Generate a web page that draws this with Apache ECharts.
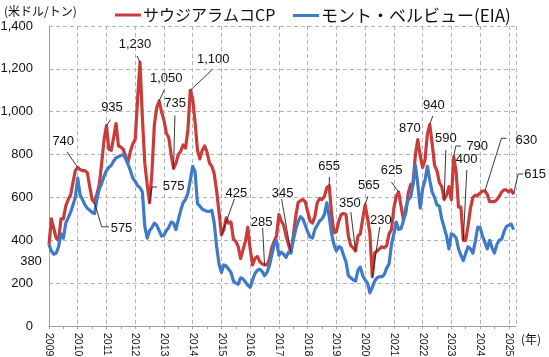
<!DOCTYPE html>
<html><head><meta charset="utf-8">
<script src="https://cdn.jsdelivr.net/npm/echarts@6/dist/echarts.min.js"></script>
<style>html,body{margin:0;padding:0;background:#fff}#c{width:549px;height:357px}</style>
</head><body><div id="c"></div>
<script>
// ---- data ----
const yearLabels = [2009,2010,2011,2012,2013,2014,2015,2016,2017,2018,2019,2020,2021,2022,2023,2024,2025];
const seriesNames = ['サウジアラムコCP', 'モント・ベルビュー(EIA)'];
// Saudi Aramco CP propane, monthly from 2009-01 (USD/t)
const saudiCP = [
  380,500,455,410,400,500,500,560,590,610,670,725,
  740,730,725,725,715,650,590,575,615,660,760,870,
  935,825,820,880,945,840,835,825,790,765,815,850,
  870,1060,1230,970,760,660,575,720,940,1020,1050,1000,
  960,900,880,800,735,760,800,815,845,830,915,1100,
  1060,950,820,780,820,840,810,760,745,710,630,530,
  425,450,505,480,485,405,395,370,315,355,395,460,
  360,285,315,325,300,290,285,285,310,365,395,420,
  520,490,470,420,380,345,420,510,575,585,590,580,
  535,490,480,510,575,595,590,605,645,655,520,435,
  440,490,520,525,520,420,375,365,350,420,430,500,
  565,505,430,230,340,350,360,370,365,375,430,450,
  550,605,625,560,495,530,620,660,665,800,870,795,
  740,775,895,940,850,750,725,670,650,590,610,650,
  590,790,720,555,555,400,400,470,550,600,610,610,
  620,630,630,615,580,580,580,590,605,625,635,635,
  625,635,615
];
// Mont Belvieu propane (EIA), monthly from 2009-01 (USD/t)
const montBelvieu = [
  380,350,335,340,370,430,410,480,505,530,565,600,
  690,610,590,565,550,540,530,525,590,640,665,700,
  725,740,750,770,785,790,795,800,780,755,725,690,
  675,655,645,625,465,410,445,460,480,470,445,420,
  425,445,460,485,480,450,495,540,575,590,620,680,
  745,720,570,560,545,540,535,535,540,480,370,290,
  250,285,280,265,250,210,200,195,225,220,205,190,
  180,215,245,260,265,255,235,250,280,330,380,400,
  330,345,335,320,345,340,400,450,485,510,500,470,
  440,415,410,450,470,490,500,520,575,510,430,380,
  350,370,365,330,300,235,225,215,210,260,275,235,
  215,200,155,180,210,225,230,230,240,270,290,380,
  430,485,450,455,490,550,590,600,660,750,660,550,
  640,680,745,680,625,600,565,560,500,460,420,360,
  430,425,410,360,330,305,340,370,360,340,395,460,
  460,420,390,360,400,365,340,380,400,405,440,465,
  470,475,450
];
// labelled points (index into saudiCP)
const calloutIdx = [0,12,24,38,46,52,59,19,42,72,90,101,117,128,132,135,146,154,159,165,169,173,182,194];

// ---- layout for callouts (pixel offsets from the point) ----
const calloutLayout = {
  0:{lab:[-18,17]},
  12:{lab:[-14.5,-26],lead:[[-10.8,-15.5]]},
  24:{lab:[5.5,-18.5],lead:[[4,-6]]},
  38:{lab:[-5,-18.5],lead:[[-3,-6.5]]},
  46:{lab:[7,-23],lead:[[5.3,-11.5]]},
  52:{lab:[1.5,-65],lead:[[1.4,-53]]},
  59:{lab:[23,-31],lead:[[21.6,-20.3]]},
  19:{lab:[27,25.5],lead:[[14.5,24],[7.2,24]]},
  42:{lab:[24,-16],lead:[[7.4,-15.8],[2.4,-15.8]]},
  72:{lab:[15,-41.5],lead:[[13,-36]]},
  90:{lab:[-3,-43],lead:[[-1.9,-37]]},
  101:{lab:[-8.3,-59],lead:[[-9.3,-53]]},
  117:{lab:[0,-19.5],lead:[[0.2,-8.6]]},
  128:{lab:[-5.7,-47.7],lead:[[-4.7,-39]]},
  132:{lab:[3.7,-20],lead:[[2.7,-8.4]]},
  135:{lab:[8.5,-56.7],lead:[[7.5,-49.7]]},
  146:{lab:[-7,-22],lead:[[-7.3,-10]]},
  154:{lab:[-8,-11]},
  159:{lab:[4,-19.6],lead:[[3,-8.6]]},
  165:{lab:[1.7,-61.3],lead:[[1.7,-49.6]]},
  169:{lab:[23.5,-10.7],lead:[[7.1,-10.7],[2.1,-10.7]]},
  173:{lab:[3.2,-81],lead:[[3.5,-70.3]]},
  182:{lab:[41.6,-51],lead:[[21.6,-52.7],[16.6,-52.7]]},
  194:{lab:[21.5,-20.2],lead:[[9.5,-20.2],[4.5,-20.2]]}
};

const months = [];
for (let y = yearLabels[0]; y <= yearLabels[yearLabels.length-1]; y++) {
  for (let mo = 1; mo <= 12; mo++) {
    if (y === 2025 && mo > 4) break;
    months.push(y + '-' + String(mo).padStart(2,'0'));
  }
}
const lastIdx = months.length - 1;
const isYear = (idx) => idx % 12 === 0;

const RED = '#c93c3a', BLUE = '#3f7ac8';
const NUMFONT = "'Liberation Sans', Arial, sans-serif";
const JPFONT = "'Noto Sans CJK JP', sans-serif";

const chart = echarts.init(document.getElementById('c'), null, {renderer:'canvas', width:549, height:357});
chart.setOption({
  animation: false,
  backgroundColor: '#fff',
  grid: {left: 49, right: 33, top: 26, bottom: 31, containLabel: false, outerBoundsMode: 'none'},
  legend: [
    {data:[seriesNames[0]], left: 110, top: 2, icon:'rect', itemWidth: 26, itemHeight: 3, itemGap: 0,
     textStyle:{fontSize:16, color:'#111', fontFamily: JPFONT, padding:[0,0,0,-3]}},
    {data:[seriesNames[1]], left: 288, top: 2, icon:'rect', itemWidth: 26, itemHeight: 3, itemGap: 0,
     textStyle:{fontSize:17, color:'#111', fontFamily: JPFONT, padding:[0,0,0,-3]}}
  ],
  xAxis: {
    type:'category', data: months, boundaryGap:false,
    axisLine:{show:true, lineStyle:{color:'#a0a0a0', width:1}},
    axisTick:{show:true, interval:(i)=> i % 6 === 0, length:3, lineStyle:{color:'#a0a0a0'}},
    axisLabel:{interval:(i)=>isYear(i), rotate:-90, margin:7, fontSize:10.5, color:'#111', fontFamily: NUMFONT,
      formatter:(v)=> v.slice(0,4)},
    splitLine:{show:true, interval:(i)=> isYear(i) || i === lastIdx, lineStyle:{color:'#b4b4b4', type:[4,3], width:1}}
  },
  yAxis: {
    type:'value', min:0, max:1400, interval:200,
    axisLine:{show:true, lineStyle:{color:'#a0a0a0', width:1}},
    axisTick:{show:false},
    axisLabel:{margin:16, fontSize:13, color:'#111', fontFamily: NUMFONT,
      formatter:(v)=> v.toLocaleString('en-US')},
    splitLine:{show:true, lineStyle:{color:'#b4b4b4', type:[4,3], width:1}}
  },
  series: [
    {name: seriesNames[0], type:'line', data: saudiCP, showSymbol:false, symbol:'none', color: RED,
     lineStyle:{width:3.2, color: RED, join:'round'}, z: 2},
    {name: seriesNames[1], type:'line', data: montBelvieu, showSymbol:false, symbol:'none', color: BLUE,
     lineStyle:{width:3.2, color: BLUE, join:'round'}, z: 3}
  ]
});

// callouts positioned through the chart's own scales
const g = [];
g.push({type:'text', left: 4, top: 5, style:{text:'(米ドル/トン)', font:"12px " + JPFONT, fill:'#111'}});
g.push({type:'text', left: 521, top: 333, style:{text:'(年)', font:"12px " + JPFONT, fill:'#111'}});
calloutIdx.forEach(i => {
  const p = chart.convertToPixel({gridIndex:0}, [i, saudiCP[i]]);
  const L = calloutLayout[i];
  g.push({type:'text', x: p[0] + L.lab[0], y: p[1] + L.lab[1], z: 100,
    style:{text: saudiCP[i].toLocaleString('en-US'), font:"13px " + NUMFONT, fill:'#111', align:'center', verticalAlign:'middle'}});
  if (L.lead) {
    const pts = L.lead.map(o => [p[0] + o[0], p[1] + o[1]]);
    pts.push([p[0], p[1]]);
    g.push({type:'polyline', z: 99, shape:{points: pts}, style:{stroke:'#222', lineWidth:0.9, fill:null}});
  }
});
chart.setOption({graphic: g});
</script></body></html>
